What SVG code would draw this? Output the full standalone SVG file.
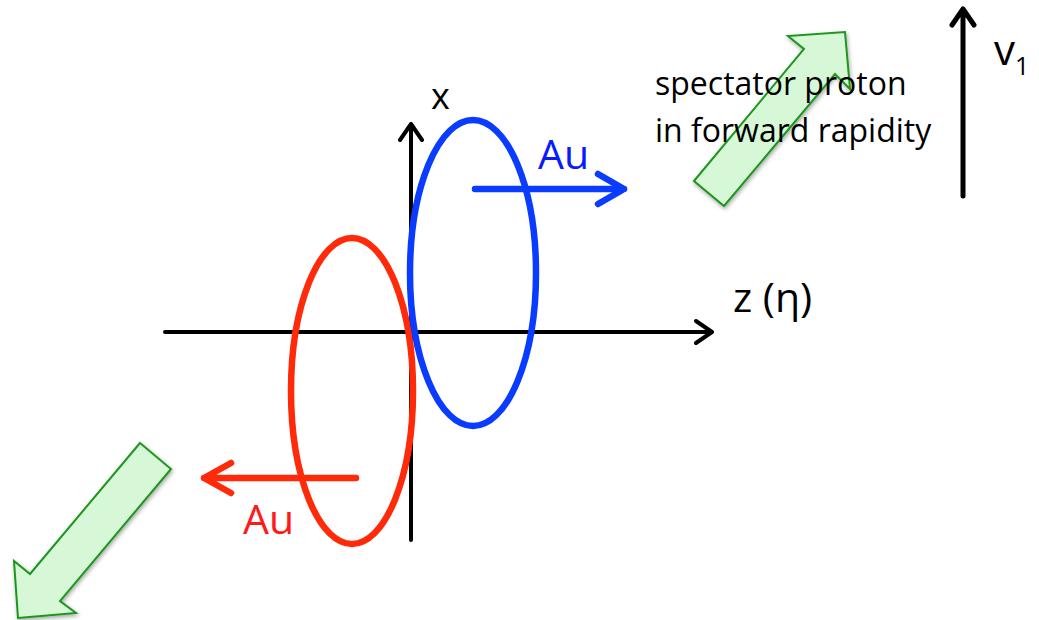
<svg xmlns="http://www.w3.org/2000/svg" width="1039" height="620" viewBox="0 0 1039 620">
<defs>
<style>
.ax{stroke:#000;stroke-width:4;fill:none;stroke-linecap:round;stroke-linejoin:round}
.big{stroke:#000;stroke-width:5;fill:none;stroke-linecap:round;stroke-linejoin:round}
.blue{stroke:#0a3cff;stroke-width:6.5;fill:none;stroke-linecap:round;stroke-linejoin:round}
.red{stroke:#ff2a0a;stroke-width:6.5;fill:none;stroke-linecap:round;stroke-linejoin:round}
.garrow{fill:#d6f8d6;stroke:#1e961e;stroke-width:2;stroke-linejoin:miter}
text{font-family:"Open Sans","Liberation Sans",sans-serif}
</style>
<filter id="sh" x="-20%" y="-20%" width="140%" height="140%">
<feGaussianBlur in="SourceAlpha" stdDeviation="2"/>
<feOffset dx="1" dy="2" result="b"/>
<feComponentTransfer><feFuncA type="linear" slope="0.35"/></feComponentTransfer>
<feMerge><feMergeNode/><feMergeNode in="SourceGraphic"/></feMerge>
</filter>
</defs>
<g id="connectors">
<path class="ax" d="M165,332 H712 M696,321 L712,332 L696,343"/>
<path class="ax" d="M411,540 V124 M400,140 L411,124 L422,140"/>
<path class="big" d="M963,196 V9 M952,25 L963,9 L974,25"/>
</g>
<g id="green-forward">
<polygon class="garrow" filter="url(#sh)" points="694,181 804,49 788,36 845,32 850,89 835,74 724,206"/>
</g>
<g id="green-backward">
<polygon class="garrow" filter="url(#sh)" points="140,443 171,469 60,601 76,613 18,618 14,561 30,574"/>
</g>
<g id="red-nucleus">
<ellipse class="red" cx="352" cy="391" rx="61" ry="153"/>
<path class="red" d="M356,478 H204 M231,463 L204,478 L231,493"/>
<text x="243" y="534" font-size="41" fill="#ff1a1a">Au</text>
</g>
<g id="blue-nucleus">
<ellipse class="blue" cx="473" cy="273" rx="63" ry="153"/>
<path class="blue" d="M475,189 H624 M598,174 L624,189 L598,204"/>
<text x="538" y="169" font-size="41" fill="#0a1aff">Au</text>
</g>
<g id="labels">
<text x="431" y="109" font-size="36" fill="#000">x</text>
<text x="733" y="312" font-size="41" fill="#000">z (η)</text>
<text x="994" y="65" font-size="42" fill="#000">v<tspan font-size="25" dy="10">1</tspan></text>
<text x="655" y="95" font-size="32" fill="#000">spectator proton</text>
<text x="655" y="142" font-size="32" fill="#000">in forward rapidity</text>
</g>
</svg>
